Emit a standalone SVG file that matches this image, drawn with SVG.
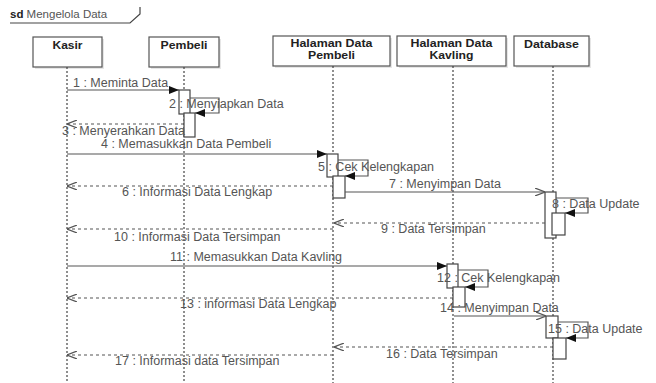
<svg xmlns="http://www.w3.org/2000/svg" width="656" height="383" viewBox="0 0 656 383">
<defs>
<style>
text{font-family:"Liberation Sans",Arial,sans-serif;font-size:12.5px;fill:#555}
.hd{font-weight:bold;font-size:10px;fill:#222;text-anchor:middle}
.box{fill:#fff;stroke:#555;stroke-width:1.2}
.sh{fill:#e6e6e6}
.life{stroke:#444;stroke-width:1.2;stroke-dasharray:2 2;fill:none}
.act{fill:#fff;stroke:#444;stroke-width:1.2}
.msg{stroke:#555;stroke-width:1.2;fill:none}
.ret{stroke:#555;stroke-width:1.2;fill:none;stroke-dasharray:3 3}
</style>
<marker id="fill" viewBox="0 0 10 8" refX="10" refY="4" markerWidth="11" markerHeight="8" markerUnits="userSpaceOnUse" orient="auto">
<path d="M0,0 L10,4 L0,8 Z" fill="#111"/>
</marker>
<marker id="open" viewBox="0 0 10 8" refX="10" refY="4" markerWidth="10" markerHeight="8" markerUnits="userSpaceOnUse" orient="auto">
<path d="M0,0 L10,4 L0,8" fill="none" stroke="#555" stroke-width="1.2"/>
</marker>
</defs>
<rect width="656" height="383" fill="#fff"/>
<g id="frame">
<path d="M10,23 H130 L140,14 V7" fill="none" stroke="#444" stroke-width="1.2"/>
<text x="10" y="18" style="font-size:11.5px"><tspan style="font-weight:bold;fill:#222">sd</tspan> Mengelola Data</text>
</g>
<g id="kasir">
<rect class="sh" x="35" y="39" width="69" height="30"/>
<rect class="box" x="33" y="37" width="69" height="30"/>
<text class="hd" x="67.5" y="49" textLength="30" lengthAdjust="spacingAndGlyphs">Kasir</text>
<line class="life" x1="67" y1="67" x2="67" y2="383"/>
</g>
<g id="pembeli">
<rect class="sh" x="151" y="39" width="70" height="30"/>
<rect class="box" x="149" y="37" width="70" height="30"/>
<text class="hd" x="184" y="49" textLength="47" lengthAdjust="spacingAndGlyphs">Pembeli</text>
<line class="life" x1="184" y1="67" x2="184" y2="383"/>
<rect class="act" x="179" y="90" width="11" height="24"/>
<rect class="act" x="184" y="113" width="11" height="24"/>
</g>
<g id="halaman-data-pembeli">
<rect class="sh" x="275" y="38" width="117" height="30"/>
<rect class="box" x="273" y="36" width="117" height="30"/>
<text class="hd" x="331.5" y="47" textLength="82" lengthAdjust="spacingAndGlyphs">Halaman Data</text>
<text class="hd" x="331.5" y="59" textLength="47" lengthAdjust="spacingAndGlyphs">Pembeli</text>
<line class="life" x1="333" y1="66" x2="333" y2="383"/>
<rect class="act" x="327" y="154" width="11" height="23"/>
<rect class="act" x="333" y="176" width="12" height="22"/>
</g>
<g id="halaman-data-kavling">
<rect class="sh" x="399" y="38" width="109" height="30"/>
<rect class="box" x="397" y="36" width="109" height="30"/>
<text class="hd" x="451.5" y="47" textLength="82" lengthAdjust="spacingAndGlyphs">Halaman Data</text>
<text class="hd" x="451.5" y="59" textLength="44" lengthAdjust="spacingAndGlyphs">Kavling</text>
<line class="life" x1="453" y1="66" x2="453" y2="383"/>
<rect class="act" x="447" y="264" width="11" height="24"/>
<rect class="act" x="453" y="287" width="12" height="20"/>
</g>
<g id="database">
<rect class="sh" x="516" y="38" width="75" height="30"/>
<rect class="box" x="514" y="36" width="75" height="30"/>
<text class="hd" x="551.5" y="48" textLength="55" lengthAdjust="spacingAndGlyphs">Database</text>
<line class="life" x1="553" y1="66" x2="553" y2="383"/>
<rect class="act" x="545" y="192" width="11" height="46"/>
<rect class="act" x="552" y="213" width="13" height="22"/>
<rect class="act" x="546" y="316" width="12" height="22"/>
<rect class="act" x="553" y="338" width="13" height="21"/>
</g>
<g id="connectors">
<line class="msg" x1="67" y1="90" x2="179" y2="90" marker-end="url(#fill)"/>
<path class="msg" d="M190,98 H219 V113 H195" marker-end="url(#fill)"/>
<line class="ret" x1="184" y1="124" x2="67" y2="124" marker-end="url(#open)"/>
<line class="msg" x1="67" y1="154" x2="327" y2="154" marker-end="url(#fill)"/>
<path class="msg" d="M338,160 H368 V176 H345" marker-end="url(#fill)"/>
<line class="ret" x1="333" y1="186" x2="67" y2="186" marker-end="url(#open)"/>
<line class="msg" x1="345" y1="192" x2="545" y2="192" marker-end="url(#open)"/>
<path class="msg" d="M556,198 H588 V213 H565" marker-end="url(#fill)"/>
<line class="ret" x1="545" y1="223" x2="334" y2="223" marker-end="url(#open)"/>
<line class="ret" x1="333" y1="229" x2="67" y2="229" marker-end="url(#open)"/>
<line class="msg" x1="67" y1="266" x2="447" y2="266" marker-end="url(#fill)"/>
<path class="msg" d="M458,270 H488 V287 H465" marker-end="url(#fill)"/>
<line class="ret" x1="453" y1="298" x2="67" y2="298" marker-end="url(#open)"/>
<line class="msg" x1="454" y1="316" x2="546" y2="316" marker-end="url(#open)"/>
<path class="msg" d="M558,322 H588 V338 H566" marker-end="url(#fill)"/>
<line class="ret" x1="553" y1="347" x2="334" y2="347" marker-end="url(#open)"/>
<line class="ret" x1="333" y1="355" x2="67" y2="355" marker-end="url(#open)"/>
</g>
<g id="labels">
<text x="73" y="87">1 : Meminta Data</text>
<text x="169" y="108">2 : Menyiapkan Data</text>
<text x="62" y="135">3 : Menyerahkan Data</text>
<text x="101" y="148">4 : Memasukkan Data Pembeli</text>
<text x="318" y="171">5 : Cek Kelengkapan</text>
<text x="122" y="196">6 : Informasi Data Lengkap</text>
<text x="389" y="188">7 : Menyimpan Data</text>
<text x="552" y="208">8 : Data Update</text>
<text x="381" y="233">9 : Data Tersimpan</text>
<text x="114" y="241">10 : Informasi Data Tersimpan</text>
<text x="170" y="261">11 : Memasukkan Data Kavling</text>
<text x="437" y="282">12 : Cek Kelengkapan</text>
<text x="180" y="308">13 : informasi Data Lengkap</text>
<text x="440" y="312">14 : Menyimpan Data</text>
<text x="548" y="333">15 : Data Update</text>
<text x="386" y="358">16 : Data Tersimpan</text>
<text x="115" y="365">17 : Informasi data Tersimpan</text>
</g>
</svg>
